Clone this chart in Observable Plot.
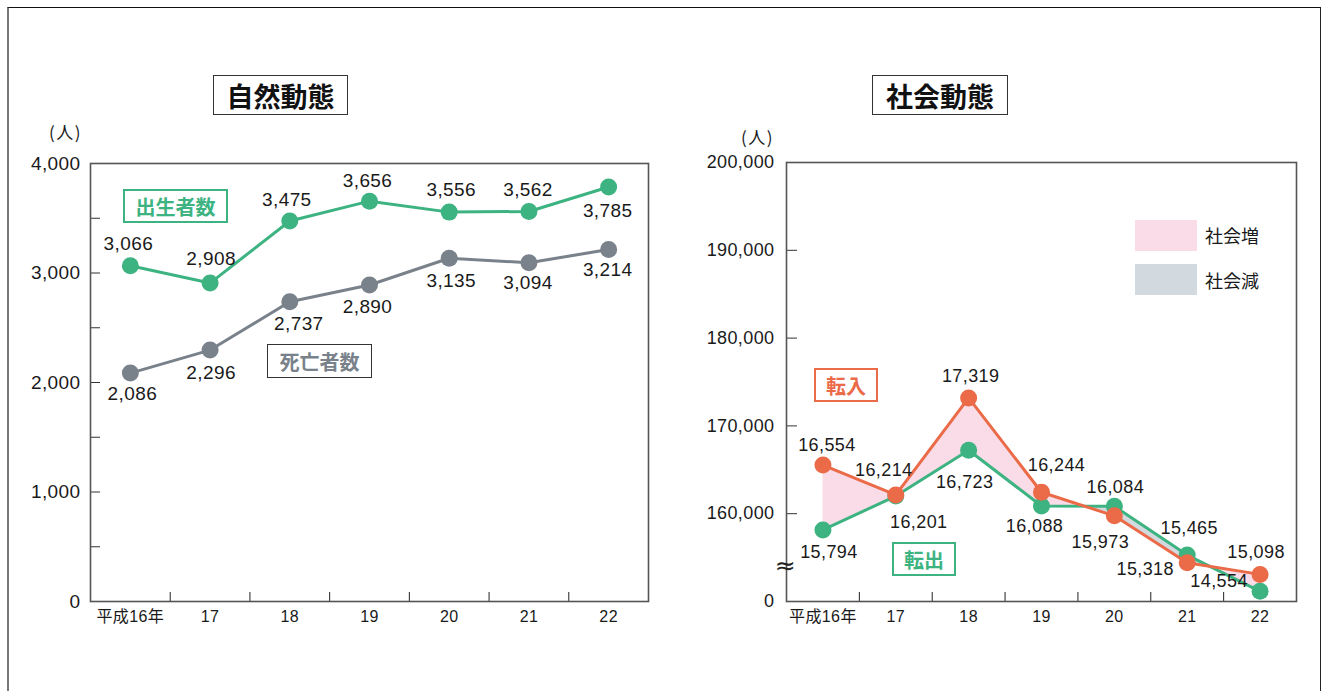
<!DOCTYPE html>
<html><head><meta charset="utf-8">
<script src="https://cdn.jsdelivr.net/npm/d3@7"></script>
<script src="https://cdn.jsdelivr.net/npm/@observablehq/plot@0.6"></script>
<style>
body{margin:0;background:#fff;}
#page{position:relative;width:1333px;height:691px;overflow:hidden;background:#fff;font-family:"Liberation Sans","Noto Sans CJK JP",sans-serif;color:#1a1a1a;}
#outer{position:absolute;left:7px;top:7px;width:1314px;height:720px;border-top:1.5px solid #111;border-left:2px solid #777;border-right:1.5px solid #222;box-sizing:border-box;}
.plot{position:absolute;top:0;}
.box{position:absolute;box-sizing:border-box;display:flex;align-items:center;justify-content:center;font-family:"Noto Sans CJK JP",sans-serif;font-weight:700;white-space:nowrap;background:#fff;}
.unit{position:absolute;font-family:"Noto Sans CJK JP",sans-serif;font-size:17px;letter-spacing:1.5px;}
.leg{position:absolute;}
.legtxt{position:absolute;font-family:"Noto Sans CJK JP",sans-serif;font-size:18px;line-height:1;}
</style>
</head><body>
<div id="page">
  <div id="outer"></div>
  <div id="left" class="plot" style="left:0"></div>
  <div id="right" class="plot" style="left:666px"></div>
  <div class="box" style="left:213px;top:75px;width:135px;height:40px;border:1.5px solid #333;font-size:27px;color:#111;">自然動態</div>
  <div class="box" style="left:872px;top:75px;width:136px;height:40px;border:1.5px solid #333;font-size:27px;color:#111;">社会動態</div>
  <div class="unit" style="left:49px;top:119px;">(人)</div>
  <div class="unit" style="left:741px;top:124px;">(人)</div>
  <div class="box" style="left:123px;top:189px;width:105px;height:34px;border:2px solid #3db381;font-size:20px;color:#3db381;">出生者数</div>
  <div class="box" style="left:267px;top:344px;width:105px;height:34px;border:1.5px solid #333;font-size:20px;color:#79828b;">死亡者数</div>
  <div class="box" style="left:814px;top:368px;width:64px;height:34px;border:2px solid #eb6a47;font-size:20px;color:#eb6a47;">転入</div>
  <div class="box" style="left:892px;top:542px;width:64px;height:34px;border:2px solid #3db381;font-size:20px;color:#3db381;">転出</div>
  <div class="leg" style="left:1135px;top:220px;width:62px;height:31px;background:#f9dce8;"></div>
  <div class="leg" style="left:1135px;top:264px;width:62px;height:31px;background:#d2dae0;"></div>
  <div class="legtxt" style="left:1205px;top:226px;">社会増</div>
  <div class="legtxt" style="left:1205px;top:271px;">社会減</div>
</div>
<script>
// ---- data ----
const years = ["平成16年", "17", "18", "19", "20", "21", "22"];
const births = [3066, 2908, 3475, 3656, 3556, 3562, 3785];
const deaths = [2086, 2296, 2737, 2890, 3135, 3094, 3214];
const naturalTicks = [0, 1000, 2000, 3000, 4000];
const naturalMinorTicks = [500, 1000, 1500, 2000, 2500, 3000, 3500];
const moveIn = [16554, 16214, 17319, 16244, 15973, 15318, 15098];
const moveOut = [15794, 16201, 16723, 16088, 16084, 15465, 14554];
const socialTickLabels = ["0", "160,000", "170,000", "180,000", "190,000", "200,000"];

// ---- styling ----
const FONT = '"Liberation Sans","Noto Sans CJK JP",sans-serif';
const green = "#3db381", gray = "#79828b", orange = "#eb6a47";
const pink = "#f9dce8", grayFill = "#d2dae0";
const fmt = d3.format(",");
const cx = d => d.i + 0.5;

function labels(rows, key, yfn, offsets, fontSize) {
  return rows.map((d, i) => Plot.text([d], {
    x: cx, y: yfn(d[key]), text: d => fmt(d[key]),
    dx: offsets[i][0], dy: offsets[i][1], fontSize, fill: "#1a1a1a"
  }));
}
function xAxes() {
  return [
    Plot.axisX(d3.range(years.length).map(i => i + 0.5), {tickSize: 0, tickPadding: 9, tickFormat: d => years[Math.floor(d)], fontSize: 16, label: null}),
    Plot.axisX(d3.range(1, years.length), {tickSize: 9, dy: -9, tickFormat: () => "", label: null, stroke: "#222"})
  ];
}

// ---- left: 自然動態 ----
const natural = years.map((year, i) => ({i, year, births: births[i], deaths: deaths[i]}));
const birthOff = [[-2,-22],[1,-24],[-3,-21],[-2,-20],[2,-22],[-1,-22],[-1,24]];
const deathOff = [[2,21],[1,23],[9,22],[-2,22],[2,23],[-1,20],[-1,20]];
const leftPlot = Plot.plot({
  width: 666, height: 640,
  marginLeft: 90, marginRight: 18, marginTop: 163, marginBottom: 39,
  style: {fontFamily: FONT, background: "transparent", overflow: "visible", color: "#1a1a1a", letterSpacing: "0.4px"},
  x: {domain: [0, years.length], label: null},
  y: {domain: [0, 4000], label: null},
  marks: [
    Plot.axisY(naturalTicks, {tickSize: 0, tickPadding: 10, tickFormat: fmt, fontSize: 19, label: null}),
    Plot.axisY(naturalMinorTicks, {tickSize: 10, dx: 10, tickFormat: () => "", label: null, stroke: "#333"}),
    ...xAxes(),
    Plot.frame({stroke: "#555", strokeWidth: 1.6}),
    Plot.line(natural, {x: cx, y: "births", stroke: green, strokeWidth: 3}),
    Plot.dot(natural, {x: cx, y: "births", r: 8.5, fill: green}),
    Plot.line(natural, {x: cx, y: "deaths", stroke: gray, strokeWidth: 3}),
    Plot.dot(natural, {x: cx, y: "deaths", r: 8.5, fill: gray}),
    ...labels(natural, "births", v => v, birthOff, 19),
    ...labels(natural, "deaths", v => v, deathOff, 19)
  ]
});
document.getElementById("left").append(leftPlot);

// ---- right: 社会動態 (broken axis) ----
const lowPart = d3.scaleLinear().domain([14500, 15000, 15500, 16000]).range([0.1, 0.25, 0.55, 1]);
const toUnit = v => v >= 16000 ? 1 + (v - 16000) / 1000 : lowPart(v);
const social = years.map((year, i) => ({i, year, moveIn: moveIn[i], moveOut: moveOut[i], uin: toUnit(moveIn[i]), uout: toUnit(moveOut[i])}));

// difference areas between the two lines, split where they cross
const segs = [];
let cur = {pos: social[0].uin >= social[0].uout, pts: [{x: 0.5, lo: social[0].uout, hi: social[0].uin}]};
for (let i = 0; i < social.length - 1; i++) {
  const a0 = social[i].uin - social[i].uout, a1 = social[i + 1].uin - social[i + 1].uout;
  if ((a0 >= 0) !== (a1 >= 0)) {
    const t = a0 / (a0 - a1);
    const x = i + 0.5 + t, y = social[i].uin + t * (social[i + 1].uin - social[i].uin);
    cur.pts.push({x, lo: y, hi: y});
    segs.push(cur);
    cur = {pos: a1 >= 0, pts: [{x, lo: y, hi: y}]};
  }
  cur.pts.push({x: i + 1.5, lo: social[i + 1].uout, hi: social[i + 1].uin});
}
segs.push(cur);
const areaPts = segs.flatMap((s, k) => s.pts.map(p => ({...p, seg: k, pos: s.pos})));

const inOff = [[4,-20],[-12,-25],[2,-22],[15,-27],[-14,26],[-42,6],[-4,-22]];
const outOff = [[6,22],[23,26],[-4,32],[-7,20],[1,-19],[2,-27],[-41,-10]];

const rightPlot = Plot.plot({
  width: 667, height: 640,
  marginLeft: 120, marginRight: 37, marginTop: 162, marginBottom: 39,
  style: {fontFamily: FONT, background: "transparent", overflow: "visible", color: "#1a1a1a", letterSpacing: "0.4px"},
  x: {domain: [0, years.length], label: null},
  y: {domain: [0, socialTickLabels.length - 1], label: null},
  marks: [
    Plot.axisY(d3.range(socialTickLabels.length), {tickSize: 0, tickPadding: 12, tickFormat: k => socialTickLabels[k], fontSize: 18, label: null}),
    Plot.axisY(d3.range(1, socialTickLabels.length - 1), {tickSize: 11, dx: 11, tickFormat: () => "", label: null, stroke: "#333"}),
    ...xAxes(),
    Plot.areaY(areaPts.filter(p => p.pos), {x: "x", y1: "lo", y2: "hi", z: "seg", fill: pink}),
    Plot.areaY(areaPts.filter(p => !p.pos), {x: "x", y1: "lo", y2: "hi", z: "seg", fill: grayFill}),
    Plot.frame({stroke: "#555", strokeWidth: 1.6}),
    Plot.text([0.4], {y: d => d, frameAnchor: "left", textAnchor: "middle", dx: -1, text: () => "≈", fontSize: 25, fontFamily: "DejaVu Sans", fill: "#222"}),
    Plot.line(social, {x: cx, y: "uout", stroke: green, strokeWidth: 3}),
    Plot.dot(social, {x: cx, y: "uout", r: 8.5, fill: green}),
    Plot.line(social, {x: cx, y: "uin", stroke: orange, strokeWidth: 3}),
    Plot.dot(social, {x: cx, y: "uin", r: 8.5, fill: orange}),
    ...labels(social, "moveIn", toUnit, inOff, 18),
    ...labels(social, "moveOut", toUnit, outOff, 18)
  ]
});
document.getElementById("right").append(rightPlot);
</script>
</body></html>
